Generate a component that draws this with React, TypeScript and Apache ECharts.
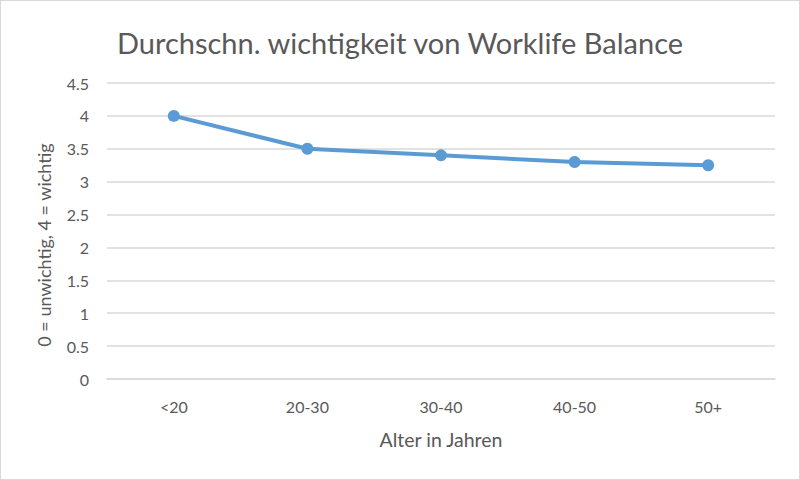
import React, { useEffect, useRef } from "react";
import * as echarts from "echarts";

const categories = ["<20", "20-30", "30-40", "40-50", "50+"];
const values = [4, 3.5, 3.4, 3.3, 3.25];
const titleText = "Durchschn. wichtigkeit von Worklife Balance";
const yName = "0 = unwichtig, 4 = wichtig";
const xName = "Alter in Jahren";

export default function App() {
  const ref = useRef<HTMLDivElement>(null);
  useEffect(() => {
    document.body.style.margin = "0";
    const chart = echarts.init(ref.current!, null, { renderer: "svg" });
    const font = "Lato, Open Sans, sans-serif";
    const color = "#595959";
    chart.setOption({
      animation: false,
      backgroundColor: "#ffffff",
      title: {
        text: titleText,
        left: "center",
        top: 22,
        textStyle: { fontFamily: font, fontSize: 29, fontWeight: "normal", color },
      },
      graphic: [
        {
          type: "text",
          x: 43,
          y: 244,
          rotation: Math.PI / 2,
          style: {
            text: yName,
            fontFamily: font,
            fontSize: 18,
            fill: color,
            align: "center",
            verticalAlign: "middle",
          },
        },
      ],
      grid: { left: 106, right: 24, top: 82, bottom: 100 },
      xAxis: {
        type: "category",
        data: categories,
        name: xName,
        nameLocation: "middle",
        nameGap: 50,
        nameTextStyle: { fontFamily: font, fontSize: 19.5, color },
        axisLine: { show: true, lineStyle: { color: "#d9d9d9", width: 1.5 } },
        axisTick: { show: false },
        axisLabel: { fontFamily: font, fontSize: 16, color, margin: 19 },
      },
      yAxis: {
        type: "value",
        min: 0,
        max: 4.5,
        interval: 0.5,
        axisLine: { show: false },
        axisTick: { show: false },
        axisLabel: { fontFamily: font, fontSize: 16, color, margin: 18 },
        splitLine: { lineStyle: { color: "#d9d9d9", width: 1.5 } },
      },
      series: [
        {
          type: "line",
          data: values,
          symbol: "circle",
          symbolSize: 12,
          itemStyle: { color: "#5b9bd5" },
          lineStyle: { color: "#5b9bd5", width: 4 },
        },
      ],
    });
    return () => chart.dispose();
  }, []);
  return (
    <div
      ref={ref}
      style={{
        position: "fixed",
        left: 0,
        top: 0,
        width: 800,
        height: 480,
        boxSizing: "border-box",
        border: "1px solid #d9d9d9",
      }}
    />
  );
}
